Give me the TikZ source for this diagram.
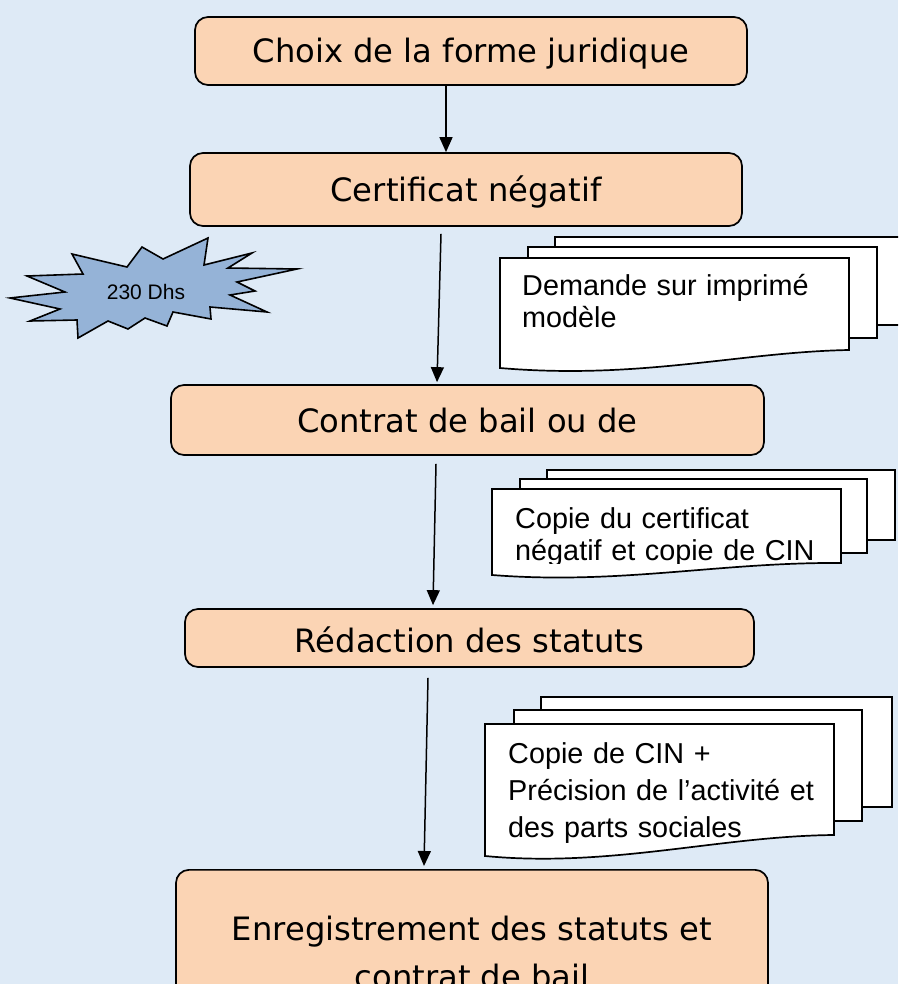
\documentclass[tikz,border=0pt]{standalone}
\usepackage{fontspec}
\setmainfont{Liberation Sans}
\newfontfamily\stagefont{DejaVu Sans}
\usetikzlibrary{arrows.meta}
\definecolor{pagebg}{HTML}{DEEAF6}
\definecolor{peach}{HTML}{FBD4B4}
\definecolor{starblue}{HTML}{95B3D7}
\tikzset{
  stage/.style={draw, line width=1.7pt, fill=peach, rounded corners=13pt,
    font=\stagefont\fontsize{32.2}{48}\selectfont, align=center, inner sep=0pt},
  oneline/.style={text height=24pt, text depth=0pt},
  flow/.style={line width=1.5pt, -{Triangle[width=13pt,length=15pt]}},
  sheet/.style={draw, line width=1.7pt, fill=white},
  doctext/.style={anchor=base west, inner sep=0pt, text width=340pt, align=left,
    font=\fontsize{28.8}{32}\selectfont},
}

\begin{document}
\begin{tikzpicture}[x=1pt,y=-1pt]
\useasboundingbox (0,0) rectangle (898,984);
\clip (0,0) rectangle (898,984);
\fill[pagebg] (0,0) rectangle (898,984);

\node[stage, oneline, minimum width=552pt, minimum height=68pt] (choix) at (471,51) {Choix de la forme juridique};
\node[stage, oneline, minimum width=552pt, minimum height=73pt] (certif) at (466,189.5) {Certificat négatif};
\node[stage, oneline, minimum width=593pt, minimum height=70pt] (contrat) at (467.5,420) {Contrat de bail ou de};
\node[stage, oneline, text height=29pt, minimum width=569pt, minimum height=58pt] (redac) at (469.5,638) {Rédaction des statuts};
\node[stage, anchor=north, minimum width=592pt, minimum height=166pt] (enreg) at (472,869) {Enregistrement des statuts et\\contrat de bail};

\draw[flow] ([xshift=-25pt]choix.south) -- ([xshift=-20pt]certif.north);
\draw[flow] ([xshift=-25pt,yshift=-7pt]certif.south) -- ([xshift=-30.5pt,yshift=2pt]contrat.north);
\draw[flow] ([xshift=-31.5pt,yshift=-8pt]contrat.south) -- ([xshift=-36.5pt,yshift=3pt]redac.north);
\draw[flow] ([xshift=-41.5pt,yshift=-10pt]redac.south) -- ([xshift=-48pt,yshift=3pt]enreg.north);

\draw[fill=starblue, line width=1.6pt] (10,298) -- (65,292) -- (27,276) -- (83,274) -- (72,254)
  -- (127,267) -- (142,247) -- (163,259) -- (208,238) -- (204,265) -- (252,253) -- (228,268)
  -- (297,269) -- (237,282) -- (255,291) -- (230,295) -- (267,312) -- (210,307) -- (211,319)
  -- (173,312) -- (167,326) -- (145,318) -- (128,329) -- (108,321) -- (78,338) -- (77,320)
  -- (30,321) -- (60,309) -- cycle;
\node[font=\fontsize{21}{24}\selectfont] (dhs) at (146,292) {230 Dhs};

\draw[sheet] (555,237) rectangle (910,325);
\draw[sheet] (528,247) rectangle (877,338);
\draw[sheet] (500,258) -- (849,258) -- (849,350) .. controls (740,352) and (640,380) .. (500,368) -- cycle;
\node[doctext] (demande) at (522,295) {Demande sur imprimé\\modèle};

\draw[sheet] (547,470) rectangle (895,540);
\draw[sheet] (520,479) rectangle (867,553);
\draw[sheet] (492,489) -- (841,489) -- (841,563) .. controls (720,562) and (620,585) .. (492,575) -- cycle;
\begin{scope}
\clip (492,489) rectangle (841,563.5);
\node[doctext] (copiecert) at (515,528) {Copie du certificat\\négatif et copie de CIN};
\end{scope}

\draw[sheet] (541,697) rectangle (892,807);
\draw[sheet] (514,710) rectangle (862,821);
\draw[sheet] (485,724) -- (834,724) -- (834,835) .. controls (720,836) and (610,868) .. (485,856) -- cycle;
\node[doctext, font=\fontsize{28.8}{37}\selectfont] (copiecin) at (508,763) {Copie de CIN +\\Précision de l’activité et\\des parts sociales};
\end{tikzpicture}
\end{document}
